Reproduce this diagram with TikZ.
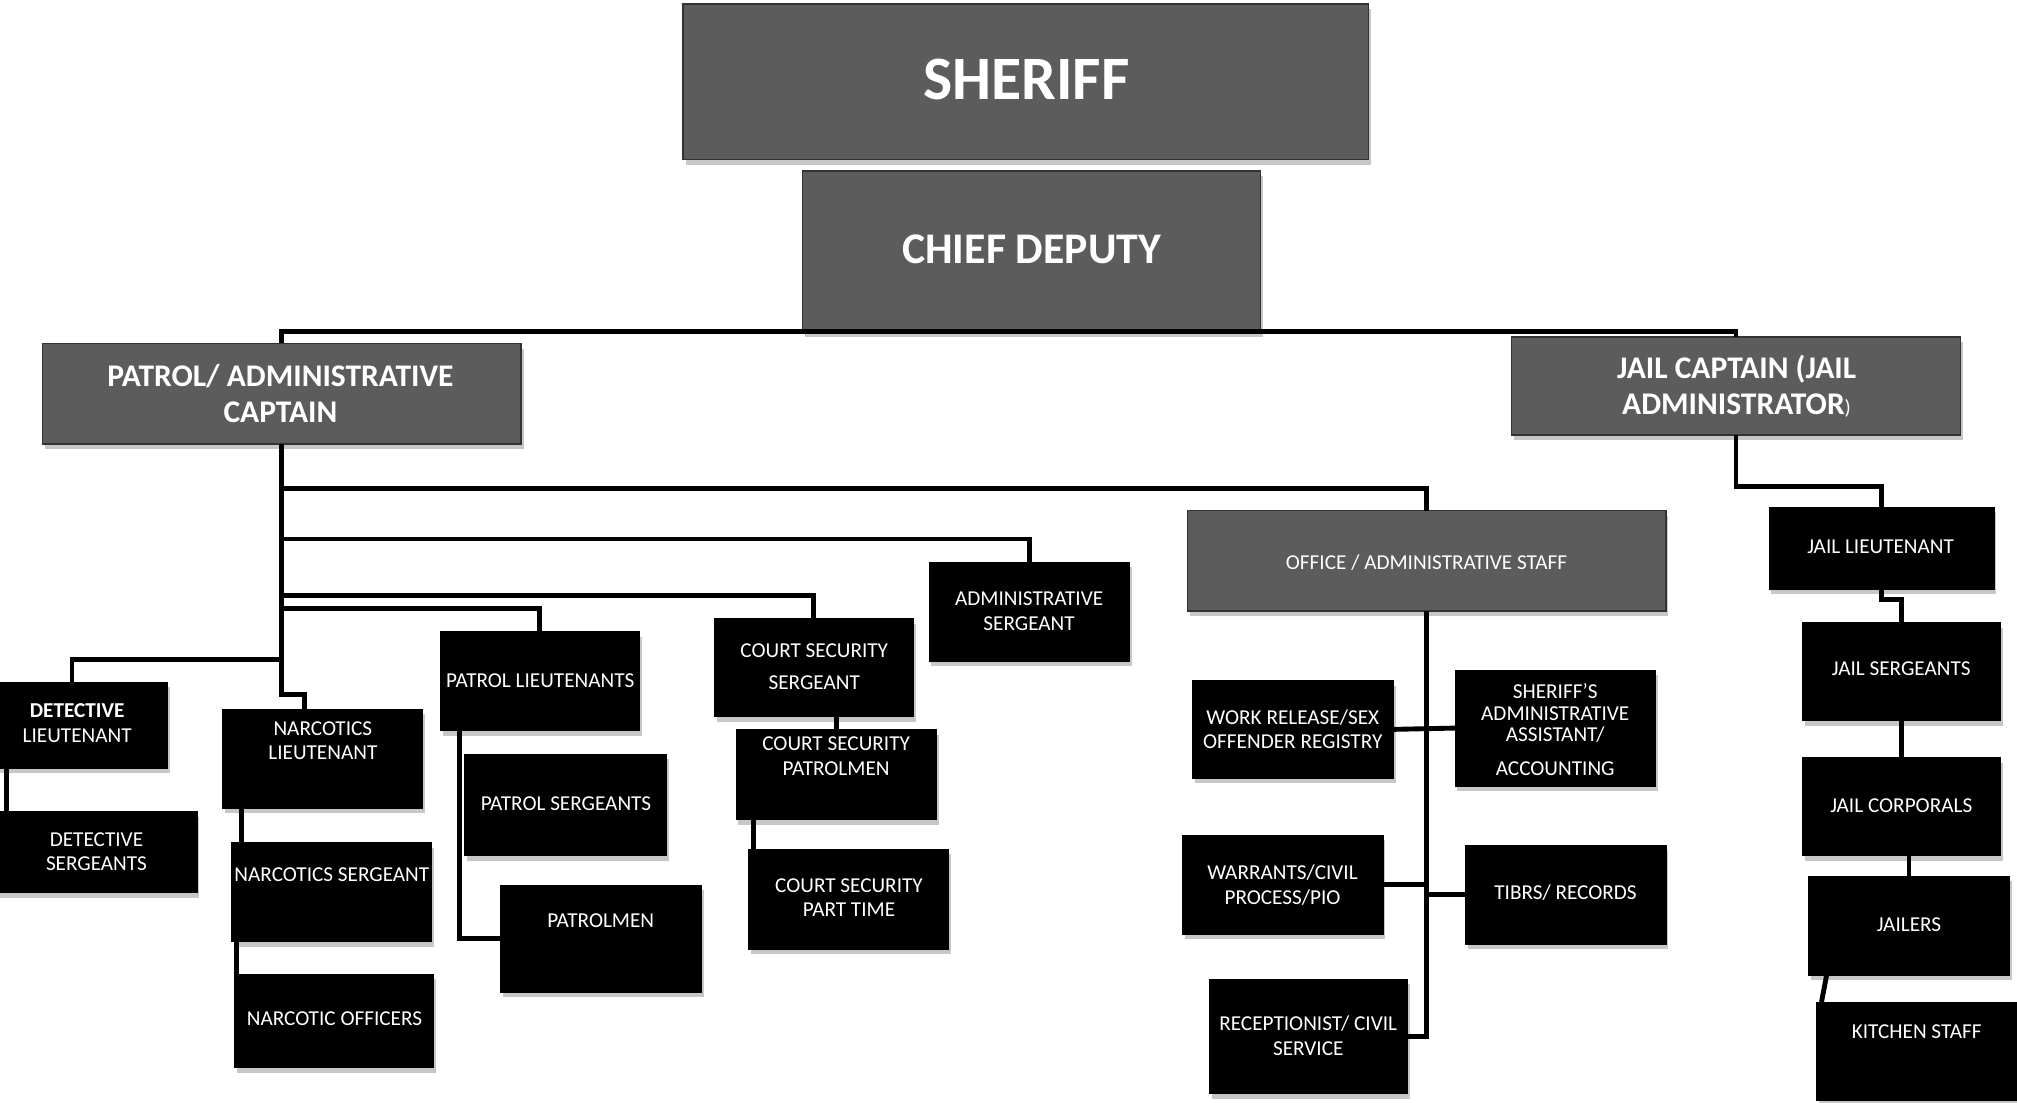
\documentclass[tikz,border=0pt]{standalone}
\usepackage{fontspec}
\setmainfont{Carlito}
\usetikzlibrary{shadows,calc}
\definecolor{boxgray}{RGB}{92,92,92}
\newcommand\mybox[6]{\node[#1, minimum width={((#5)-(#3))*1pt}, minimum height={((#6)-(#4))*1pt}] (#2) at (#3,#4) {};}
\begin{document}
\begin{tikzpicture}[x=1pt,y=-1pt,
  basebox/.style={anchor=north west, inner sep=0pt, outer sep=0pt,
    general shadow={shadow xshift=2pt, shadow yshift=-4pt, fill=black!22}},
  graybox/.style={basebox, draw=black!80, line width=1.2pt, fill=boxgray},
  blackbox/.style={basebox, draw=black, fill=black},
  conn/.style={line width=3.8pt, black},
  lbl/.style={text=white, align=center, inner sep=0pt, font=\fontsize{16.5}{19}\selectfont},
  hdr/.style={text=white, align=center, inner sep=0pt, font=\bfseries\fontsize{24.5}{28}\selectfont}
]
\useasboundingbox (0,0) rectangle (1568,857);
\fill[white] (0,0) rectangle (1568,857);

% ---------- boxes ----------
\mybox{graybox}{sheriff}{531}{3}{1064}{124}
\mybox{graybox}{chief}{624}{133}{980}{258}
\mybox{graybox}{patrol}{33}{267}{405}{345}
\mybox{graybox}{jailcap}{1175}{262}{1524}{338}
\mybox{graybox}{office}{923}{397}{1295}{475}

\mybox{blackbox}{adsgt}{722}{437}{878}{514}
\mybox{blackbox}{cssgt}{555}{481}{710}{557}
\mybox{blackbox}{patrollt}{342}{491}{497}{568}
\mybox{blackbox}{detlt}{-10}{530}{130}{597}
\mybox{blackbox}{narclt}{173}{551}{328}{628}
\mybox{blackbox}{detsgt}{-3}{631}{153}{694}
\mybox{blackbox}{narcsgt}{180}{655}{335}{732}
\mybox{blackbox}{narcoff}{182}{757}{337}{830}
\mybox{blackbox}{patrolsgt}{361}{586}{518}{665}
\mybox{blackbox}{patrolmen}{389}{688}{545}{771}
\mybox{blackbox}{cspat}{572}{567}{728}{637}
\mybox{blackbox}{cspt}{582}{660}{737}{738}

\mybox{blackbox}{workrel}{927}{529}{1083}{605}
\mybox{blackbox}{adasst}{1131}{521}{1287}{611}
\mybox{blackbox}{warrants}{919}{649}{1075}{726}
\mybox{blackbox}{tibrs}{1139}{657}{1295}{734}
\mybox{blackbox}{recept}{940}{761}{1094}{850}

\mybox{blackbox}{jaillt}{1375}{394}{1550}{458}
\mybox{blackbox}{jailsgt}{1401}{484}{1555}{560}
\mybox{blackbox}{jailcorp}{1401}{589}{1555}{665}
\mybox{blackbox}{jailers}{1406}{681}{1562}{758}
\mybox{blackbox}{kitchen}{1412}{779}{1568}{855}

% ---------- connectors ----------
\draw[conn] (patrol.north) -- ++(0,-9) -| (jailcap.north);
\draw[conn] (patrol.south) -- ++(0,195) -| ([xshift=-14pt]narclt.north);
\draw[conn] (patrol.south) ++(0,35) -| (office.north);
\draw[conn] (patrol.south) ++(0,74) -| (adsgt.north);
\draw[conn] (patrol.south) ++(0,118) -| (cssgt.north);
\draw[conn] (patrol.south) ++(0,128) -| (patrollt.north);
\draw[conn] (patrol.south) ++(0,168) -| ([xshift=-4pt]detlt.north);

\draw[conn] ([xshift=15pt]detlt.south west) -- ([xshift=8pt]detsgt.north west);
\draw[conn] ([xshift=15pt]narclt.south west) -- ([xshift=8pt]narcsgt.north west);
\draw[conn] ([xshift=4pt]narcsgt.south west) -- ([xshift=2pt,yshift=4pt]narcoff.west);
\draw[conn] ([xshift=15pt]patrollt.south west) |- (patrolmen.west);
\draw[conn] (cspat.north) -- (cspat.north |- cssgt.south);
\draw[conn] ([xshift=14pt]cspat.south west) -- ([xshift=4pt]cspt.west);

\draw[conn] (office.south) |- (recept.east);
\draw[conn] (workrel.east) -- (adasst.west);
\draw[conn] (warrants.east) -- (warrants.east -| office.south);
\draw[conn] (tibrs.west) -- (tibrs.west -| office.south);

\draw[conn] (jailcap.south) -- ++(0,40) -| (jaillt.north);
\draw[conn] (jaillt.south) -- ++(0,8) -| (jailsgt.north);
\draw[conn] (jailsgt.south) -- (jailcorp.north);
\draw[conn] (jailers.north) -- (jailers.north |- jailcorp.south);
\draw[conn] ([xshift=14pt]jailers.south west) -- ([xshift=4pt]kitchen.north west);

% ---------- labels ----------
\node[hdr, font=\bfseries\fontsize{48}{50}\selectfont] (t-sheriff) at (798,62) {SHERIFF};
\node[hdr, font=\bfseries\fontsize{34}{38}\selectfont] (t-chief) at (802,194) {CHIEF DEPUTY};
\node[hdr] (t-patrol) at (218,306) {PATROL/ ADMINISTRATIVE\\CAPTAIN};
\node[hdr] (t-jailcap) at (1350,300) {JAIL CAPTAIN (JAIL\\ADMINISTRATOR{\mdseries\fontsize{16}{19}\selectfont)}};
\node[lbl] (t-office) at (1109,437) {OFFICE / ADMINISTRATIVE STAFF};
\node[lbl] (t-adsgt) at (800,475) {ADMINISTRATIVE\\SERGEANT};
\node[lbl] (t-cssgt) at (633,518) {COURT SECURITY\\[6pt]SERGEANT};
\node[lbl] (t-patrollt) at (420,529) {PATROL LIEUTENANTS};
\node[lbl] (t-detlt) at (60,562) {\textbf{DETECTIVE}\\LIEUTENANT};
\node[lbl] (t-narclt) at (251,576) {NARCOTICS\\LIEUTENANT};
\node[lbl] (t-detsgt) at (75,662) {DETECTIVE\\SERGEANTS};
\node[lbl] (t-narcsgt) at (258,680) {NARCOTICS SERGEANT};
\node[lbl] (t-narcoff) at (260,792) {NARCOTIC OFFICERS};
\node[lbl] (t-patrolsgt) at (440,625) {PATROL SERGEANTS};
\node[lbl] (t-patrolmen) at (467,716) {PATROLMEN};
\node[lbl] (t-cspat) at (650,588) {COURT SECURITY\\PATROLMEN};
\node[lbl] (t-cspt) at (660,698) {COURT SECURITY\\PART TIME};
\node[lbl] (t-workrel) at (1005,567) {WORK RELEASE/SEX\\OFFENDER REGISTRY};
\node[lbl, font=\fontsize{16.5}{17}\selectfont] (t-adasst) at (1209,567) {SHERIFF'S\\ADMINISTRATIVE\\ASSISTANT/\\[9pt]ACCOUNTING};
\node[lbl] (t-warrants) at (997,688) {WARRANTS/CIVIL\\PROCESS/PIO};
\node[lbl] (t-tibrs) at (1217,694) {TIBRS/ RECORDS};
\node[lbl] (t-recept) at (1017,805) {RECEPTIONIST/ CIVIL\\SERVICE};
\node[lbl] (t-jaillt) at (1462,425) {JAIL LIEUTENANT};
\node[lbl] (t-jailsgt) at (1478,520) {JAIL SERGEANTS};
\node[lbl] (t-jailcorp) at (1478,626) {JAIL CORPORALS};
\node[lbl] (t-jailers) at (1484,719) {JAILERS};
\node[lbl] (t-kitchen) at (1490,802) {KITCHEN STAFF};
\end{tikzpicture}
\end{document}
